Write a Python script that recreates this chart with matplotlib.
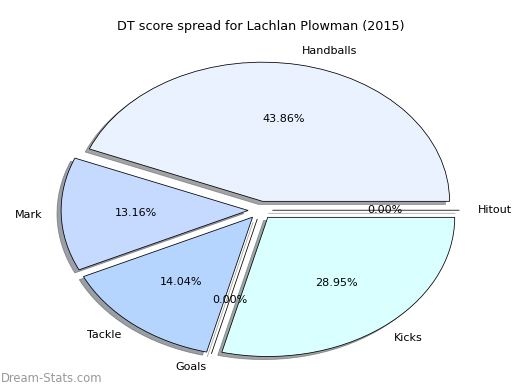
import matplotlib
matplotlib.use('Agg')
import matplotlib.pyplot as plt

# DT points per stat type (Lachlan Plowman, 2015)
kategorie = ['Hitout', 'Handballs', 'Mark', 'Tackle', 'Goals', 'Kicks']
punkty = [0, 50, 15, 16, 0, 33]
kolory = ['#ffffff', '#ebf2ff', '#c6d9ff', '#b5d5ff', '#e0ffe0', '#d9ffff']
explode = [0.065] * len(punkty)

fig = plt.figure(figsize=(6.5, 4.875), dpi=80)
ax = fig.add_axes([0.051, 0.015, 0.899, 0.892])

ax.pie(punkty, labels=kategorie, colors=kolory, explode=explode,
       autopct='%1.2f%%', shadow=True, startangle=0,
       wedgeprops={'edgecolor': 'black', 'linewidth': 0.7},
       textprops={'fontsize': 10})
ax.set_aspect('auto')
ax.set_xlim(-1.25, 1.25)
ax.set_ylim(-1.25, 1.25)
ax.set_title('DT score spread for Lachlan Plowman (2015)', fontsize=11.5, pad=6)

fig.text(0.002, 0.012, 'Dream-Stats.com', fontsize=10.5, color='#999999',
         ha='left', va='bottom')

plt.savefig('out.png', dpi=80)
plt.close()
